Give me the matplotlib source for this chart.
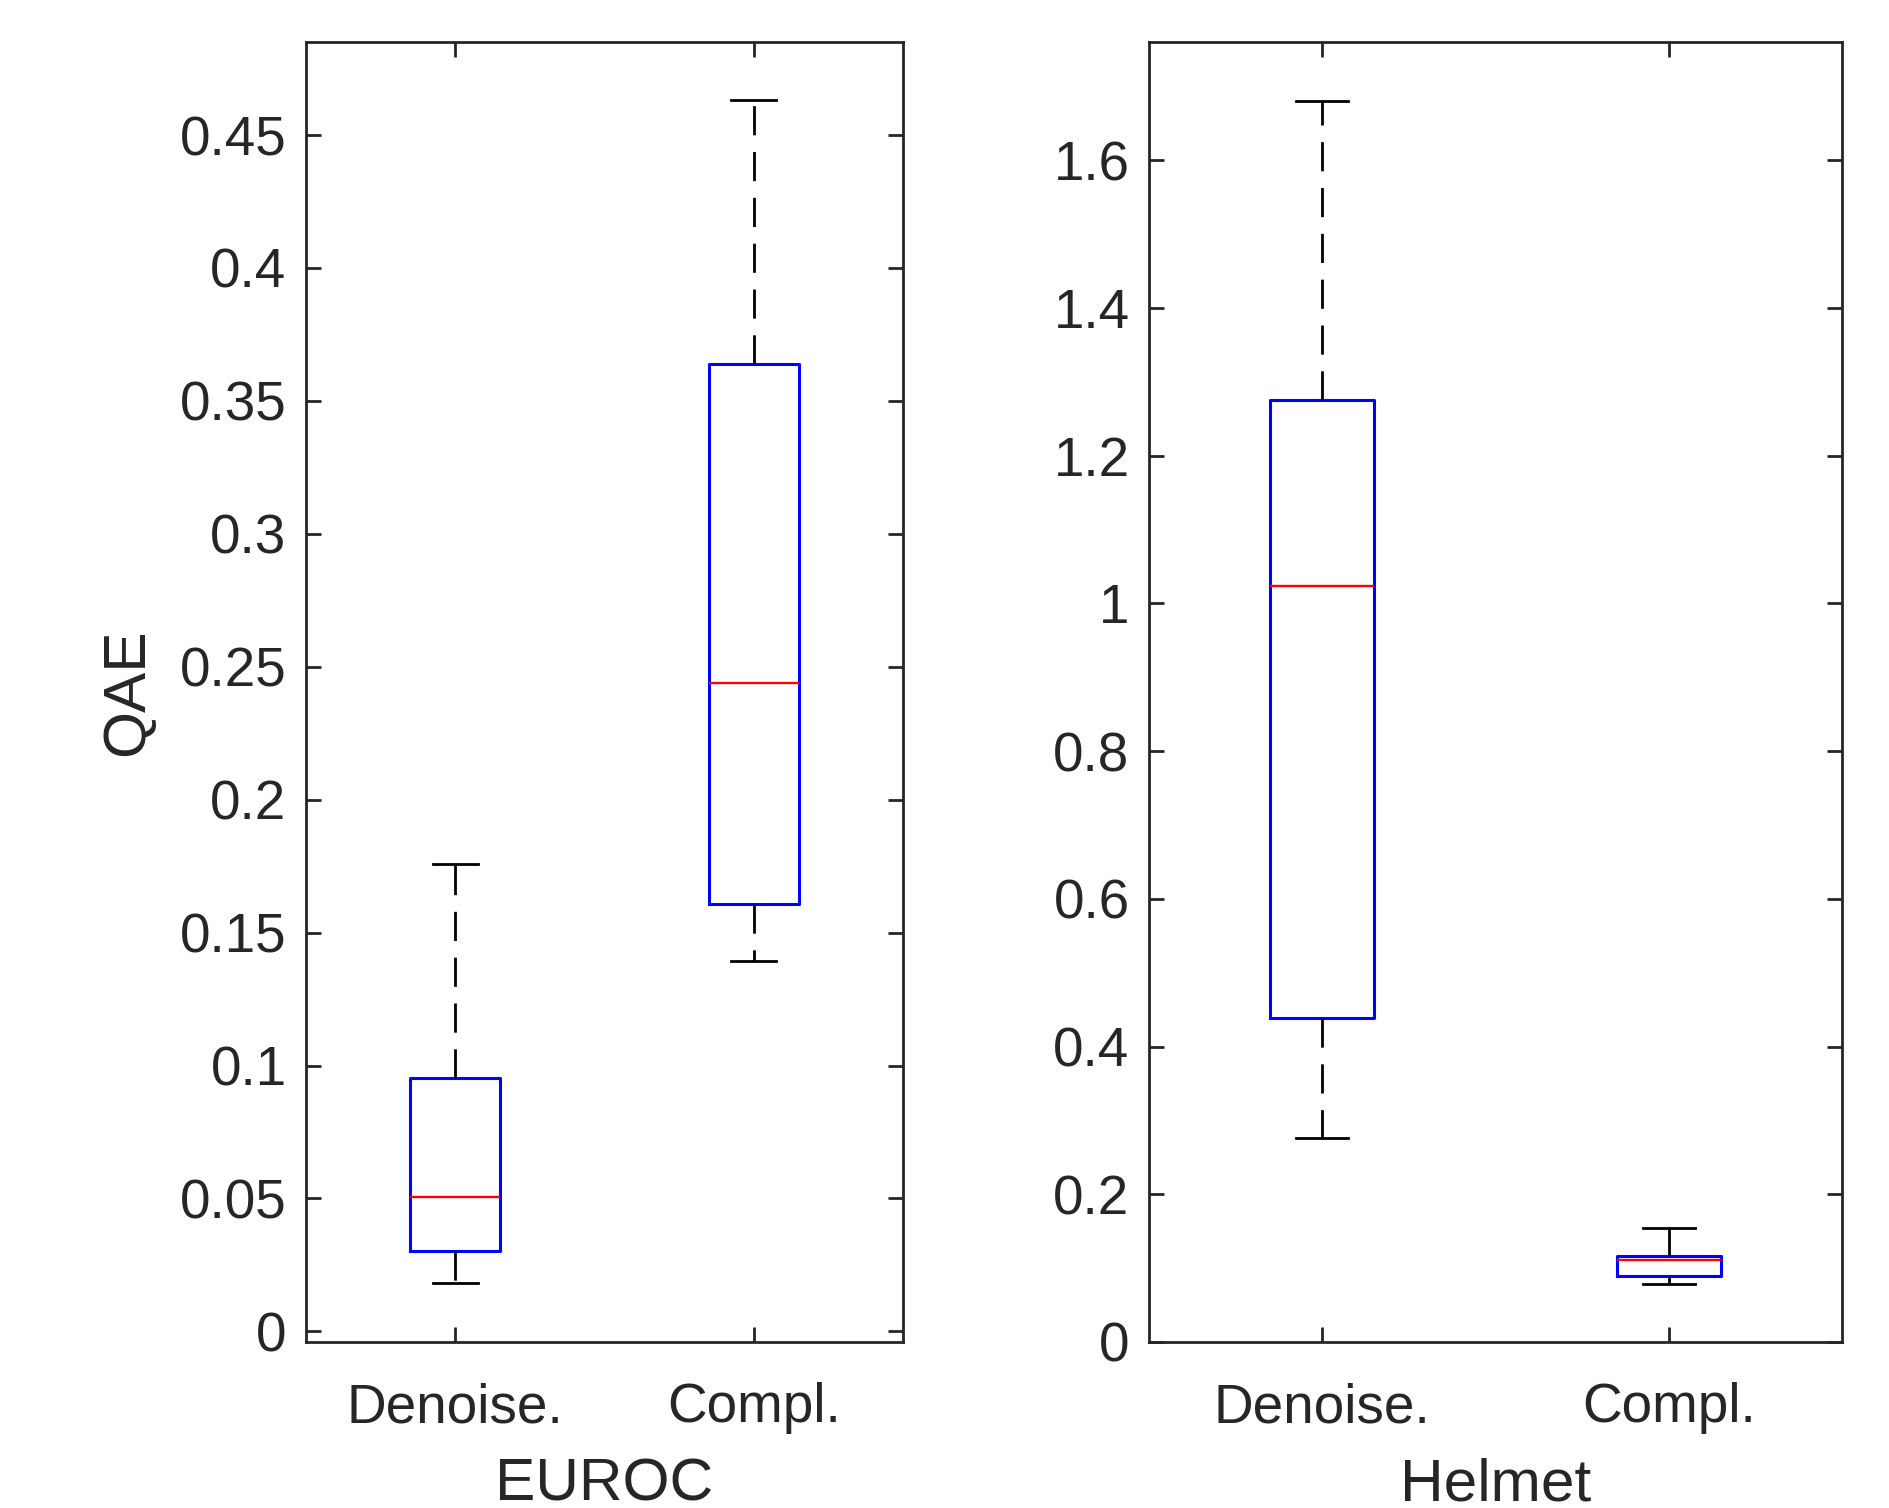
import matplotlib
matplotlib.use("Agg")
import matplotlib.pyplot as plt

# values (box stats per group)
categories = ["Denoise.", "Compl."]

euroc_whislo = [0.0182, 0.1394]
euroc_q1 = [0.0304, 0.1607]
euroc_med = [0.0504, 0.2438]
euroc_q3 = [0.0954, 0.3637]
euroc_whishi = [0.1757, 0.4632]

helmet_whislo = [0.276, 0.078]
helmet_q1 = [0.439, 0.089]
helmet_med = [1.024, 0.1105]
helmet_q3 = [1.275, 0.117]
helmet_whishi = [1.680, 0.154]

euroc_ticks = [0, 0.05, 0.1, 0.15, 0.2, 0.25, 0.3, 0.35, 0.4, 0.45]
euroc_ticklabels = ["0", "0.05", "0.1", "0.15", "0.2", "0.25", "0.3", "0.35", "0.4", "0.45"]
helmet_ticks = [0, 0.2, 0.4, 0.6, 0.8, 1.0, 1.2, 1.4, 1.6]
helmet_ticklabels = ["0", "0.2", "0.4", "0.6", "0.8", "1", "1.2", "1.4", "1.6"]

TXT = "#262626"
plt.rcParams["font.family"] = ["Liberation Sans", "DejaVu Sans"]

W, H = 1890, 1508
fig = plt.figure(figsize=(W / 100, H / 100), dpi=100)


def make_stats(lo, q1, med, q3, hi):
    stats = []
    for i, name in enumerate(categories):
        stats.append({"label": name, "whislo": lo[i], "q1": q1[i], "med": med[i],
                      "q3": q3[i], "whishi": hi[i], "fliers": []})
    return stats


def draw(ax, stats, ylim, ticks, ticklabels, xlabel, ylabel=None):
    ax.bxp(stats, positions=[1, 2], widths=0.3, capwidths=0.15, showfliers=False,
           boxprops=dict(color="blue", linewidth=2.2),
           medianprops=dict(color="red", linewidth=1.7),
           whiskerprops=dict(color="black", linewidth=2.0, linestyle=(0, (10.5, 6))),
           capprops=dict(color="black", linewidth=2.0))
    ax.set_xlim(0.5, 2.5)
    ax.set_ylim(*ylim)
    ax.set_xticks([1, 2])
    ax.set_xticklabels(categories)
    ax.set_yticks(ticks)
    ax.set_yticklabels(ticklabels)
    ax.tick_params(direction="in", length=11, width=2.0, colors=TXT, labelsize=39.5,
                   top=True, right=True)
    ax.tick_params(axis="x", pad=29)
    ax.tick_params(axis="y", pad=14)
    for s in ax.spines.values():
        s.set_color(TXT)
        s.set_linewidth(2.0)
    ax.set_xlabel(xlabel, fontsize=43.5, color=TXT, labelpad=17)
    if ylabel:
        ax.set_ylabel(ylabel, fontsize=43.5, color=TXT, labelpad=18)


ax1 = fig.add_axes([306 / W, 1 - 1342 / H, (903 - 306) / W, (1342 - 42) / H])
draw(ax1, make_stats(euroc_whislo, euroc_q1, euroc_med, euroc_q3, euroc_whishi),
     (-0.004, 0.485), euroc_ticks, euroc_ticklabels, "EUROC", "QAE")

ax2 = fig.add_axes([1149 / W, 1 - 1342 / H, (1842 - 1149) / W, (1342 - 42) / H])
draw(ax2, make_stats(helmet_whislo, helmet_q1, helmet_med, helmet_q3, helmet_whishi),
     (0, 1.76), helmet_ticks, helmet_ticklabels, "Helmet")

fig.savefig("out.png", dpi=100, facecolor="white")
